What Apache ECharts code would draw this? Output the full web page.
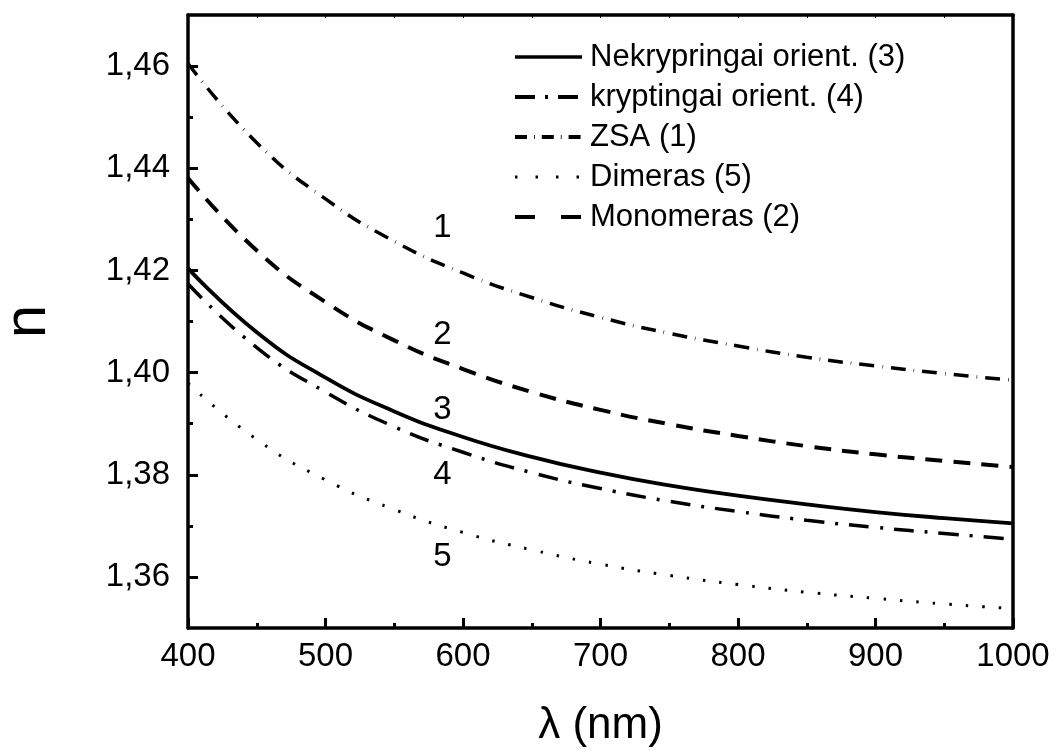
<!DOCTYPE html>
<html>
<head>
<meta charset="utf-8">
<script src="https://cdn.jsdelivr.net/npm/echarts@6/dist/echarts.min.js"></script>
<style>html,body{margin:0;padding:0;background:#fff}#c{width:1056px;height:751px}</style>
</head>
<body>
<div id="c"></div>
<script>
var wavelengths = [400,450,500,550,600,650,700,750,800,850,900,950,1000];
var nekrypringai = [1.4204,1.4079,1.3990,1.3924,1.3874,1.3835,1.3804,1.3779,1.3759,1.3742,1.3727,1.3715,1.3705];
var kryptingai   = [1.4174,1.4049,1.3962,1.3894,1.3844,1.3804,1.3773,1.3748,1.3728,1.3711,1.3697,1.3685,1.3674];
var zsa          = [1.4605,1.4450,1.4340,1.4257,1.4195,1.4147,1.4108,1.4077,1.4052,1.4030,1.4013,1.3998,1.3985];
var dimeras      = [1.3979,1.3869,1.3790,1.3732,1.3687,1.3653,1.3625,1.3603,1.3585,1.3570,1.3558,1.3547,1.3538];
var monomeras    = [1.4381,1.4239,1.4138,1.4063,1.4007,1.3962,1.3927,1.3899,1.3876,1.3856,1.3840,1.3827,1.3815];
var seriesNames = ['Nekrypringai orient. (3)','kryptingai orient. (4)','ZSA (1)','Dimeras (5)','Monomeras (2)'];
var curveLabels = ['1','2','3','4','5'];
var curveLabelX = [585,585,585,585,585];
var curveLabelY = [1.4284,1.4073,1.3926,1.3799,1.3639];
var yMajorTicks = [1.36,1.38,1.40,1.42,1.44,1.46];
var yMinorTicks = [1.37,1.39,1.41,1.43,1.45];

function pairs(vals){ return wavelengths.map(function(w,i){return [w, vals[i]];}); }
var FONT = '"Liberation Sans", Arial, sans-serif';

var styles = [
  {width: 3.8, type: 'solid'},
  {width: 3.5, type: [20, 11, 3, 11]},
  {width: 3.5, type: [15, 8, 0.6, 8]},
  {width: 3, type: [2.5, 14]},
  {width: 4, type: [17, 11]}
];
var legendStyles = [
  {width: 3.5, type: 'solid'},
  {width: 4, type: [20, 10, 3, 10]},
  {width: 4, type: [12, 7, 0.8, 7]},
  {width: 3, type: [2.5, 18]},
  {width: 4, type: [20, 26]}
];
var valuesList = [nekrypringai, kryptingai, zsa, dimeras, monomeras];

var series = seriesNames.map(function(name, i){
  return {
    name: name, type: 'line', data: pairs(valuesList[i]), smooth: true, showSymbol: false, symbol: 'none',
    lineStyle: {color: '#000', width: styles[i].width, type: styles[i].type},
    itemStyle: {color: '#000'}, silent: true, z: 3
  };
});
series.push({
  type: 'scatter', symbolSize: 0, silent: true,
  itemStyle: {color: '#000'},
  data: curveLabels.map(function(t,i){ return {value: [curveLabelX[i], curveLabelY[i]], name: t}; }),
  label: {show: true, position: 'inside', formatter: function(p){return p.name;},
    fontFamily: FONT, fontSize: 33, color: '#000', opacity: 1}
});

var chart = echarts.init(document.getElementById('c'));
chart.setOption({
  animation: false,
  backgroundColor: '#fff',
  grid: {left: 188, right: 43, top: 15, bottom: 123, outerBoundsMode: 'none', containLabel: false},
  legend: {
    left: 508, top: 35, orient: 'vertical', itemWidth: 67, itemHeight: 14, itemGap: 6,
    data: seriesNames.map(function(n, i){
      return {name: n, itemStyle: {opacity: 0}, lineStyle: {color: '#000', width: legendStyles[i].width, type: legendStyles[i].type}};
    }),
    itemStyle: {opacity: 0},
    textStyle: {fontFamily: FONT, fontSize: 31, color: '#000', lineHeight: 34, padding: [0,0,0,3]},
    selectedMode: false
  },
  xAxis: [{
    type: 'value', min: 400, max: 1000, interval: 100,
    name: 'λ (nm)', nameLocation: 'middle', nameGap: 76, nameMoveOverlap: false,
    nameTextStyle: {fontFamily: FONT, fontSize: 44, color: '#000'},
    axisLine: {show: true, onZero: false, lineStyle: {color: '#000', width: 3.5}},
    axisTick: {show: true, inside: true, length: 10, lineStyle: {color: '#000', width: 3}},
    minorTick: {show: true, splitNumber: 2, length: 5, lineStyle: {color: '#000', width: 3}},
    axisLabel: {fontFamily: FONT, fontSize: 33, color: '#000', margin: 12, formatter: function(v){ return String(v); }},
    splitLine: {show: false}
  },{
    type: 'value', min: 400, max: 1000, interval: 50, position: 'top',
    axisLine: {show: true, onZero: false, lineStyle: {color: '#000', width: 3.5}},
    axisTick: {show: true, inside: true, length: 3, lineStyle: {color: '#000', width: 1}},
    axisLabel: {show: false}, splitLine: {show: false}
  }],
  yAxis: [{
    type: 'value', min: 1.35, max: 1.47, position: 'left',
    name: 'n', nameLocation: 'middle', nameGap: 130, nameRotate: 90, nameMoveOverlap: false,
    nameTextStyle: {fontFamily: FONT, fontSize: 60, color: '#000'},
    axisLine: {show: true, onZero: false, lineStyle: {color: '#000', width: 3.5}},
    axisTick: {show: true, inside: true, length: 10, customValues: yMajorTicks, lineStyle: {color: '#000', width: 3}},
    axisLabel: {fontFamily: FONT, fontSize: 33, color: '#000', margin: 18, customValues: yMajorTicks,
      formatter: function(v){ return v.toFixed(2).replace('.', ','); }},
    splitLine: {show: false}
  },{
    type: 'value', min: 1.35, max: 1.47, position: 'left',
    axisLine: {show: false},
    axisTick: {show: true, inside: true, length: 5, customValues: yMinorTicks, lineStyle: {color: '#000', width: 3}},
    axisLabel: {show: false}, splitLine: {show: false}
  },{
    type: 'value', min: 1.35, max: 1.47, position: 'right',
    axisLine: {show: true, onZero: false, lineStyle: {color: '#000', width: 3.5}},
    axisTick: {show: false}, axisLabel: {show: false}, splitLine: {show: false}
  }],
  series: series
});
</script>
</body>
</html>
